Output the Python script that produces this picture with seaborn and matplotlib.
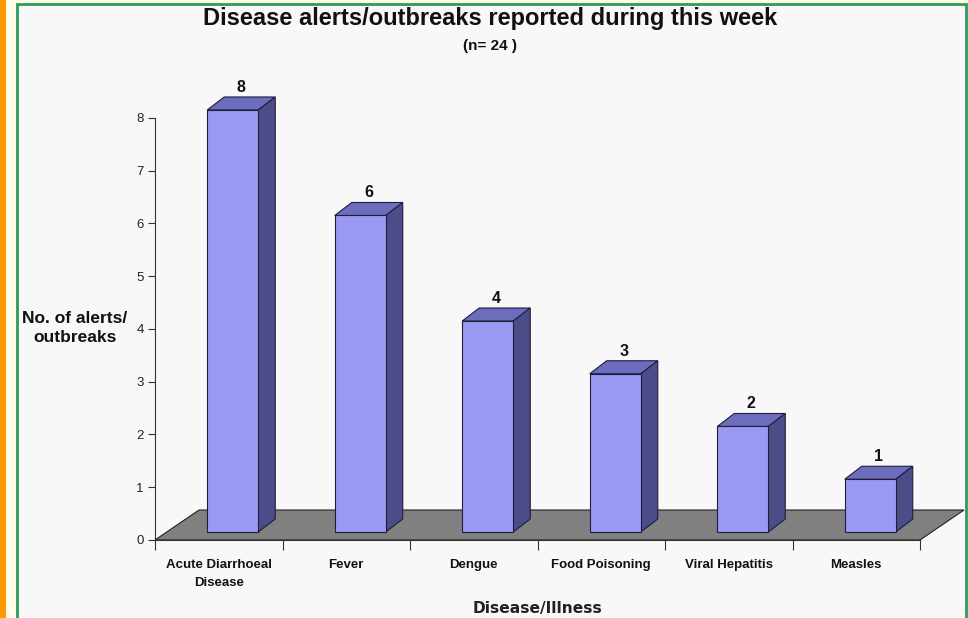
import matplotlib
matplotlib.use("Agg")
import matplotlib.pyplot as plt
import seaborn as sns
import pandas as pd
from matplotlib.patches import Polygon, Rectangle

categories = ["Acute Diarrhoeal\nDisease", "Fever", "Dengue", "Food Poisoning",
              "Viral Hepatitis", "Measles"]
values = [8, 6, 4, 3, 2, 1]
y_ticks = [0, 1, 2, 3, 4, 5, 6, 7, 8]
title = "Disease alerts/outbreaks reported during this week"
subtitle = "(n= 24 )"
y_label = "No. of alerts/\noutbreaks"
x_label = "Disease/Illness"

FRONT = "#9999f2"
TOP = "#6d6dbe"
SIDE = "#4c4c88"
EDGE = "#1e1e3c"

sns.set_theme(style="white")
plt.rcParams['font.family'] = ['Liberation Sans', 'DejaVu Sans']

W, H = 968, 618
fig = plt.figure(figsize=(W / 100, H / 100), dpi=100)
fig.patch.set_facecolor("#fffde8")
# decorative page frame
fig.patches.append(Rectangle((0, 0), 5.5 / W, 1, transform=fig.transFigure,
                             facecolor="#ff9900", edgecolor="none", zorder=-2))
fig.patches.append(Rectangle((17 / W, -0.05), (966 - 17) / W, 1.05 - 4 / H,
                             transform=fig.transFigure, facecolor="#f8f8f8",
                             edgecolor="#2e9a5c", linewidth=2, zorder=-2))

ax_left, ax_right, ax_bottom, ax_top = 155, 920, 540, 91.6
ax = fig.add_axes([ax_left / W, 1 - ax_bottom / H, (ax_right - ax_left) / W,
                   (ax_bottom - ax_top) / H])
ax.set_zorder(2)
ax.set_facecolor("none")

df = pd.DataFrame({"Disease": categories, "Count": values})
sns.barplot(data=df, x="Disease", y="Count", width=0.4, color=FRONT,
            saturation=1, edgecolor=EDGE, linewidth=0.8, ax=ax, zorder=4)
ax.set_xlim(-0.5, len(categories) - 0.5)
ax.set_ylim(0, 8.5)

# pixel -> data scale
sx = (ax_right - ax_left) / (len(categories))
sy = (ax_bottom - ax_top) / 8.5

# floor
fdx, fdy = 44 / sx, 30 / sy
x0, x1 = -0.5, len(categories) - 0.5
floor = Polygon([(x0, 0), (x1, 0), (x1 + fdx, fdy), (x0 + fdx, fdy)],
                closed=True, facecolor="#808080", edgecolor="#222222",
                linewidth=0.8, clip_on=False, zorder=1)
ax.add_patch(floor)

# 3D faces
shx, shy = 14 / sx, 8 / sy
ddx, ddy = 17 / sx, 13 / sy
for patch, v in zip(ax.patches[:len(values)], values):
    bx = patch.get_x() + shx
    bw = patch.get_width()
    patch.set_x(bx)
    patch.set_y(shy)
    top = shy + patch.get_height()
    top_face = Polygon([(bx, top), (bx + bw, top), (bx + bw + ddx, top + ddy),
                        (bx + ddx, top + ddy)], closed=True, facecolor=TOP,
                       edgecolor=EDGE, linewidth=0.8, zorder=3, clip_on=False)
    side_face = Polygon([(bx + bw, shy), (bx + bw + ddx, shy + ddy),
                         (bx + bw + ddx, top + ddy), (bx + bw, top)],
                        closed=True, facecolor=SIDE, edgecolor=EDGE,
                        linewidth=0.8, zorder=3, clip_on=False)
    ax.add_patch(top_face)
    ax.add_patch(side_face)
    ax.text(bx + bw / 2 + ddx / 2, top + ddy + 2 / sy, f"{v}", ha="center",
            va="bottom", fontsize=11.5, fontweight="bold", color="#111111",
            clip_on=False)

# axes styling
for s in ["top", "right"]:
    ax.spines[s].set_visible(False)
ax.spines["left"].set_bounds(0, 8)
ax.spines["left"].set_color("#333333")
ax.spines["bottom"].set_color("#333333")
ax.spines["left"].set_linewidth(0.8)
ax.spines["bottom"].set_linewidth(0.8)

ax.set_yticks(y_ticks)
ax.set_yticklabels([str(t) for t in y_ticks], fontsize=9.5, color="#222222")
ax.tick_params(axis="y", left=True, length=5, width=0.8, color="#333333", pad=3)

ax.set_xticks(range(len(categories)))
ax.set_xticklabels(categories, fontsize=9.5, fontweight="bold",
                   color="#111111", linespacing=1.75)
ax.set_xticks([i - 0.5 for i in range(len(categories) + 1)], minor=True)
ax.tick_params(axis="x", which="major", bottom=False, length=0, pad=13.5)
ax.tick_params(axis="x", which="minor", bottom=True, length=7, width=0.8,
               color="#333333", direction="out")

ax.set_xlabel("")
ax.set_ylabel("")
fig.text(538 / W, 1 - 608 / H, x_label, ha="center", va="center",
         fontsize=11.2, fontweight="bold", color="#222222",
         family=["DejaVu Sans"])
fig.text(75 / W, 1 - 328 / H, y_label, ha="center", va="center",
         fontsize=12.5, fontweight="bold", color="#111111", linespacing=1.35)

fig.text(490 / W, 1 - 18 / H, title, ha="center", va="center",
         fontsize=17, fontweight="bold", color="#111111")
fig.text(490 / W, 1 - 46 / H, subtitle, ha="center", va="center",
         fontsize=11, fontweight="bold", color="#111111")

fig.savefig("out.png", dpi=100, facecolor=fig.get_facecolor())
